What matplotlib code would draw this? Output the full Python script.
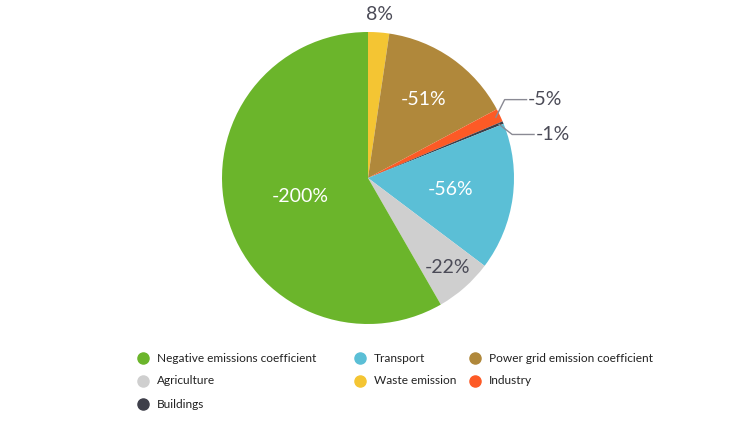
import numpy as np
import matplotlib.pyplot as plt
from matplotlib.lines import Line2D

# legend order
categories = ["Negative emissions coefficient", "Transport", "Power grid emission coefficient",
              "Agriculture", "Waste emission", "Industry", "Buildings"]
values = [-200, -56, -51, -22, 8, -5, -1]
colors = ["#6bb52b", "#5bbfd6", "#b0883b", "#cfcfcf", "#f4c533", "#fd5a26", "#3e3f4a"]

# order of the slices clockwise from the top
draw_order = ["Waste emission", "Power grid emission coefficient", "Industry", "Buildings",
              "Transport", "Agriculture", "Negative emissions coefficient"]

plt.rcParams["font.family"] = ["Lato", "DejaVu Sans"]
text_dark = "#4b4b57"

fig = plt.figure(figsize=(7.48, 4.21), dpi=100)
fig.patch.set_facecolor("white")

W, H = 748, 421
cx, cy, r = 368, 178, 146
ax = fig.add_axes([(cx - r) / W, (H - cy - r) / H, 2 * r / W, 2 * r / H])

idx = [categories.index(c) for c in draw_order]
sizes = [abs(values[i]) for i in idx]
wedges, _ = ax.pie(sizes, colors=[colors[i] for i in idx], startangle=90,
                   counterclock=False, radius=1, wedgeprops=dict(linewidth=0))
ax.set_xlim(-1, 1)
ax.set_ylim(-1, 1)
ax.axis("off")

# label placement: radius fraction and colour per slice
label_style = {
    "Negative emissions coefficient": (0.48, "white"),
    "Transport": (0.57, "white"),
    "Power grid emission coefficient": (0.66, "white"),
    "Agriculture": (0.82, text_dark),
    "Waste emission": (1.12, text_dark),
}

for w, i in zip(wedges, idx):
    name = categories[i]
    ang = np.deg2rad((w.theta1 + w.theta2) / 2)
    txt = f"{values[i]}%"
    if name in label_style:
        rf, col = label_style[name]
        ax.text(rf * np.cos(ang), rf * np.sin(ang), txt, ha="center", va="center",
                fontsize=14, color=col)
    else:
        # outside label with leader line
        start = np.array([0.97 * np.cos(ang), 0.97 * np.sin(ang)])
        if name == "Industry":
            elbow = start + np.array([0.06, 0.12])
        else:
            elbow = start + np.array([0.09, -0.07])
        end = elbow + np.array([0.15, 0.0])
        ax.plot([start[0], elbow[0], end[0]], [start[1], elbow[1], end[1]],
                color="#8a8a94", lw=1, clip_on=False)
        ax.text(end[0] + 0.01, end[1], txt, ha="left", va="center",
                fontsize=14, color=text_dark)

# legend drawn as a grid
col_x = [143, 360, 475]
row_y = [358, 381, 404]
for k, (name, col) in enumerate(zip(categories, colors)):
    x = col_x[k % 3]
    y = row_y[k // 3]
    fig.add_artist(Line2D([x / W], [1 - y / H], marker="o", markersize=8,
                          color=col, linestyle="none", transform=fig.transFigure))
    fig.text((x + 14) / W, 1 - y / H, name, ha="left", va="center",
             fontsize=8.6, color="#222222")

fig.savefig("out.png", dpi=100)
